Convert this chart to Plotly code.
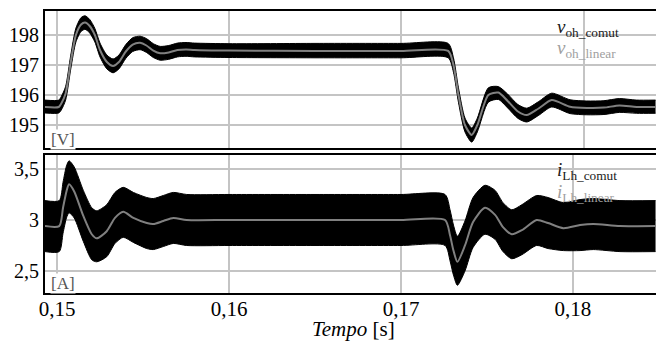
import plotly.graph_objects as go

# ---------------- data ----------------
# top panel: output voltage [V]
t_v = [0.1493, 0.1501, 0.15025, 0.1505, 0.1508, 0.1511, 0.1514, 0.15163, 0.1519, 0.1522,
       0.1525, 0.1529, 0.15326, 0.1536, 0.1540, 0.1544, 0.15483, 0.1552, 0.1556, 0.1560,
       0.1565, 0.1570, 0.1575, 0.1580, 0.1600, 0.1650, 0.1700, 0.17274, 0.17305, 0.17334,
       0.17372, 0.17411, 0.17444, 0.17508, 0.17566, 0.1762, 0.1768, 0.17731, 0.1780,
       0.17876, 0.17983, 0.1808, 0.1818, 0.1827, 0.1837, 0.1848]
v_linear = [195.60, 195.60, 195.72, 196.05, 197.10, 198.00, 198.35, 198.42, 198.30, 198.00,
            197.50, 197.10, 196.97, 197.10, 197.45, 197.68, 197.74, 197.65, 197.48, 197.39,
            197.42, 197.50, 197.52, 197.50, 197.48, 197.47, 197.47, 197.47, 197.00, 196.00,
            195.00, 194.67, 195.00, 196.00, 196.08, 195.80, 195.45, 195.33, 195.55,
            195.83, 195.61, 195.57, 195.58, 195.65, 195.60, 195.60]
v_comut_upper = [195.83, 195.83, 195.95, 196.28, 197.33, 198.23, 198.58, 198.64, 198.52, 198.22,
                 197.73, 197.33, 197.20, 197.33, 197.68, 197.91, 197.96, 197.88, 197.71, 197.62,
                 197.65, 197.73, 197.75, 197.73, 197.71, 197.72, 197.72, 197.72, 197.24, 196.24,
                 195.23, 194.90, 195.23, 196.24, 196.28, 196.03, 195.68, 195.56, 195.78,
                 196.06, 195.84, 195.80, 195.81, 195.88, 195.83, 195.83]
v_comut_lower = [195.40, 195.40, 195.50, 195.83, 196.87, 197.77, 198.12, 198.19, 198.07, 197.77,
                 197.27, 196.87, 196.74, 196.87, 197.22, 197.45, 197.51, 197.42, 197.25, 197.16,
                 197.19, 197.27, 197.29, 197.27, 197.25, 197.24, 197.24, 197.24, 196.76, 195.76,
                 194.77, 194.43, 194.77, 195.76, 195.85, 195.57, 195.22, 195.10, 195.32,
                 195.60, 195.38, 195.34, 195.35, 195.42, 195.39, 195.39]

# bottom panel: inductor current [A]
t_i = [0.1493, 0.15013, 0.15035, 0.15055, 0.1507, 0.1510, 0.15153, 0.15202, 0.15231, 0.15289,
       0.15337, 0.15385, 0.15444, 0.15522, 0.1556, 0.15618, 0.15676, 0.15754, 0.1600, 0.1650,
       0.1700, 0.17256, 0.17285, 0.17305, 0.17328, 0.17372, 0.17419, 0.17488, 0.17547,
       0.17593, 0.17644, 0.17703, 0.17789, 0.17855, 0.17944, 0.18041, 0.18118, 0.18273,
       0.1848]
i_linear = [2.94, 2.94, 3.12, 3.28, 3.35, 3.28, 3.04, 2.86, 2.82, 2.89,
            3.02, 3.08, 3.02, 2.97, 2.96, 2.99, 3.02, 3.00, 3.00, 3.00,
            3.00, 3.00, 2.85, 2.70, 2.59, 2.75, 2.98, 3.12, 3.05,
            2.93, 2.86, 2.90, 3.00, 2.97, 2.92, 2.95, 2.96, 2.94,
            2.94]
i_comut_upper = [3.19, 3.19, 3.37, 3.53, 3.58, 3.52, 3.29, 3.12, 3.09, 3.15,
                 3.27, 3.32, 3.27, 3.22, 3.21, 3.24, 3.27, 3.25, 3.25, 3.25,
                 3.25, 3.25, 3.10, 2.95, 2.84, 2.99, 3.22, 3.34, 3.29,
                 3.17, 3.10, 3.15, 3.24, 3.22, 3.17, 3.20, 3.21, 3.19,
                 3.19]
i_comut_lower = [2.69, 2.69, 2.87, 3.02, 3.07, 3.02, 2.79, 2.61, 2.59, 2.64,
                 2.77, 2.83, 2.78, 2.72, 2.71, 2.74, 2.77, 2.75, 2.75, 2.75,
                 2.75, 2.75, 2.60, 2.46, 2.36, 2.50, 2.73, 2.86, 2.81,
                 2.69, 2.62, 2.66, 2.75, 2.72, 2.70, 2.70, 2.71, 2.69,
                 2.69]

x_ticks = [0.15, 0.16, 0.17, 0.18]
x_ticktext = ["0,15", "0,16", "0,17", "0,18"]
v_ticks = [195, 196, 197, 198]
i_ticks = [2.5, 3.0, 3.5]
i_ticktext = ["2,5", "3", "3,5"]

# ---------------- styling ----------------
FONT = '"Liberation Serif", "DejaVu Serif", serif'
GRID = "#c4c4c4"
LIN = "#808080"
SM = 0.7

fig = go.Figure()

def band(t, lo, up, xa, ya):
    fig.add_trace(go.Scatter(x=t, y=lo, mode="lines", xaxis=xa, yaxis=ya,
                             line=dict(color="black", width=1, shape="spline", smoothing=SM),
                             showlegend=False, hoverinfo="skip"))
    fig.add_trace(go.Scatter(x=t, y=up, mode="lines", xaxis=xa, yaxis=ya, fill="tonexty",
                             fillcolor="black",
                             line=dict(color="black", width=1, shape="spline", smoothing=SM),
                             showlegend=False, hoverinfo="skip"))

band(t_v, v_comut_lower, v_comut_upper, "x", "y")
fig.add_trace(go.Scatter(x=t_v, y=v_linear, mode="lines", xaxis="x", yaxis="y",
                         line=dict(color=LIN, width=2, shape="spline", smoothing=SM),
                         showlegend=False))
band(t_i, i_comut_lower, i_comut_upper, "x2", "y2")
fig.add_trace(go.Scatter(x=t_i, y=i_linear, mode="lines", xaxis="x2", yaxis="y2",
                         line=dict(color=LIN, width=2, shape="spline", smoothing=SM),
                         showlegend=False))

xr = [0.149302, 0.184826]
common_x = dict(range=xr, showgrid=True, gridcolor=GRID, gridwidth=1.5, zeroline=False,
                showline=True, linecolor="black", linewidth=2, mirror=True, ticks="")
common_y = dict(showgrid=True, gridcolor=GRID, gridwidth=1.5, zeroline=False,
                showline=True, linecolor="black", linewidth=2, ticks="",
                tickfont=dict(family=FONT, size=20, color="black"))

fig.update_layout(
    width=656, height=342,
    margin=dict(l=45, r=0, t=11, b=49),
    paper_bgcolor="white", plot_bgcolor="white",
    showlegend=False,
    font=dict(family=FONT),
    xaxis=dict(common_x, anchor="y", tickvals=[0.15, 0.16, 0.17, 0.18066], showticklabels=False),
    yaxis=dict(common_y, anchor="x", domain=[0.5142, 1.0], range=[194.233, 198.8],
               tickvals=v_ticks, ticktext=[str(v) for v in v_ticks]),
    xaxis2=dict(common_x, anchor="y2", tickvals=x_ticks, ticktext=x_ticktext,
                ticklabelstandoff=-4,
                tickfont=dict(family=FONT, size=21, color="black")),
    yaxis2=dict(common_y, anchor="x2", domain=[0.0, 0.4894], range=[2.2843, 3.637],
                tickvals=i_ticks, ticktext=i_ticktext),
)

ann = []
def txt(text, x, y, size, color, xanchor="left", yanchor="middle", bg=None, xref="paper", yref="paper"):
    ann.append(dict(text=text, x=x, y=y, xref=xref, yref=yref, xanchor=xanchor, yanchor=yanchor,
                    showarrow=False, font=dict(family=FONT, size=size, color=color),
                    bgcolor=bg, borderpad=0))

W = 611.0
H = 282.0
def px(xp):
    return (xp - 45) / W
def py(yp):
    return (293 - yp) / H

txt("[V]", px(50), py(139), 17, "#555555", bg="white")
txt("[A]", px(50), py(283), 17, "#555555", bg="white")
txt("<i>v</i><sub>oh_comut</sub>", px(556), py(28), 19, "#1a1a1a")
txt("<i>v</i><sub>oh_linear</sub>", px(556), py(49), 19, "#a0a0a0")
txt("<i>i</i><sub>Lh_comut</sub>", px(556), py(171), 19, "#1a1a1a")
txt("<i>i</i><sub>Lh_linear</sub>", px(556), py(193), 19, "#a0a0a0")
txt("<i>Tempo</i> [s]", px(353), py(329), 21, "black", xanchor="center")
fig.update_layout(annotations=ann)

fig.write_html("out.html")
